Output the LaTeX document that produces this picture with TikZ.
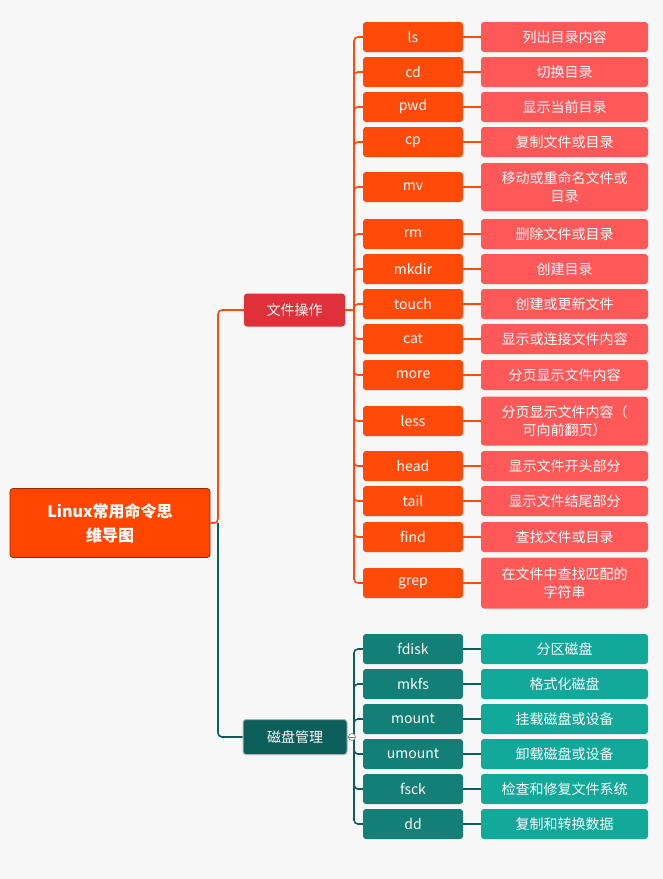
\documentclass[tikz,border=0pt]{standalone}
\usepackage{fontspec}
\setmainfont{Noto Sans CJK SC}
\usetikzlibrary{positioning}
\definecolor{rootc}{HTML}{FF4500}
\definecolor{catA}{HTML}{E0303A}
\definecolor{cmdA}{HTML}{FF4A0A}
\definecolor{descA}{HTML}{FF5858}
\definecolor{catB}{HTML}{0B5E59}
\definecolor{cmdB}{HTML}{137F76}
\definecolor{descB}{HTML}{12A99B}
\definecolor{bg}{HTML}{F7F7F7}
\tikzset{
  box/.style={rounded corners=3pt, text=white, align=center, inner sep=0pt,
    font=\fontsize{14}{18}\selectfont},
  cmdbox/.style={box, minimum width=100pt, minimum height=30pt},
  descbox/.style={box, minimum width=167pt, minimum height=30pt},
  lineA/.style={draw=cmdA, line width=1.6pt, rounded corners=4pt},
  lineB/.style={draw=catB, line width=1.6pt, rounded corners=4pt},
}
\begin{document}
\begin{tikzpicture}[x=1pt,y=-1pt]
  \fill[bg] (0,0) rectangle (663,879);
  \useasboundingbox (0,0) rectangle (663,879);
  % root and categories
  \node[box, fill=rootc, draw=rootc!60!black, line width=.8pt, minimum width=200pt, minimum height=69pt,
    font=\bfseries\fontsize{16}{24}\selectfont] (root) at (110,523) {Linux常用命令思\\维导图};
  \node[box, fill=catA, minimum width=101pt, minimum height=33pt] (files) at (294.5,310) {文件操作};
  \node[box, fill=catB, draw=gray!60, line width=1pt, minimum width=104pt, minimum height=35pt] (disk) at (295,737) {磁盘管理};
  \coordinate (trunk) at (218,523);
  \draw[lineA] (root.east) -- (trunk) |- (files.west);
  \draw[lineB] (trunk) |- (disk.west);
  % file commands
  \coordinate (fspine) at (354,310);
  \draw[lineA] (files.east) -- (fspine);
  \foreach \n/\c/\d/\y/\h in {
      ls/ls/列出目录内容/37/30, cd/cd/切换目录/72/30, pwd/pwd/显示当前目录/107/30,
      cp/cp/复制文件或目录/142/30, mv/mv/移动或重命名文件或\\目录/187/48,
      rm/rm/删除文件或目录/234/30, mkdir/mkdir/创建目录/269/30,
      touch/touch/创建或更新文件/304/30, cat/cat/显示或连接文件内容/339/30,
      more/more/分页显示文件内容/375/30, less/less/分页显示文件内容（\\可向前翻页）/421/49,
      head/head/显示文件开头部分/466/30, tail/tail/显示文件结尾部分/501/30,
      find/find/查找文件或目录/537/30, grep/grep/在文件中查找匹配的\\字符串/583/51} {
    \node[cmdbox, fill=cmdA] (c\n) at (413,\y) {\c};
    \node[descbox, fill=descA, minimum height=\h pt] (d\n) at (564.5,\y) {\d};
    \draw[lineA] (fspine) |- (c\n.west);
    \draw[lineA] (c\n.east) -- (d\n.west);
  }
  % disk commands
  \coordinate (dspine) at (354,737);
  \draw[lineB] (disk.east) -- (dspine);
  \foreach \n/\d/\y in {fdisk/分区磁盘/649, mkfs/格式化磁盘/684, mount/挂载磁盘或设备/719,
      umount/卸载磁盘或设备/754, fsck/检查和修复文件系统/789, dd/复制和转换数据/824} {
    \node[cmdbox, fill=cmdB] (c\n) at (413,\y) {\n};
    \node[descbox, fill=descB] (d\n) at (564.5,\y) {\d};
    \draw[lineB] (dspine) |- (c\n.west);
    \draw[lineB] (c\n.east) -- (d\n.west);
  }
  \node[circle, draw=gray, fill=white, line width=.6pt, inner sep=0pt, minimum size=7pt] (fold) at (352,737) {};
  \draw[gray, line width=.6pt] (fold.west) -- (fold.east);
\end{tikzpicture}
\end{document}
